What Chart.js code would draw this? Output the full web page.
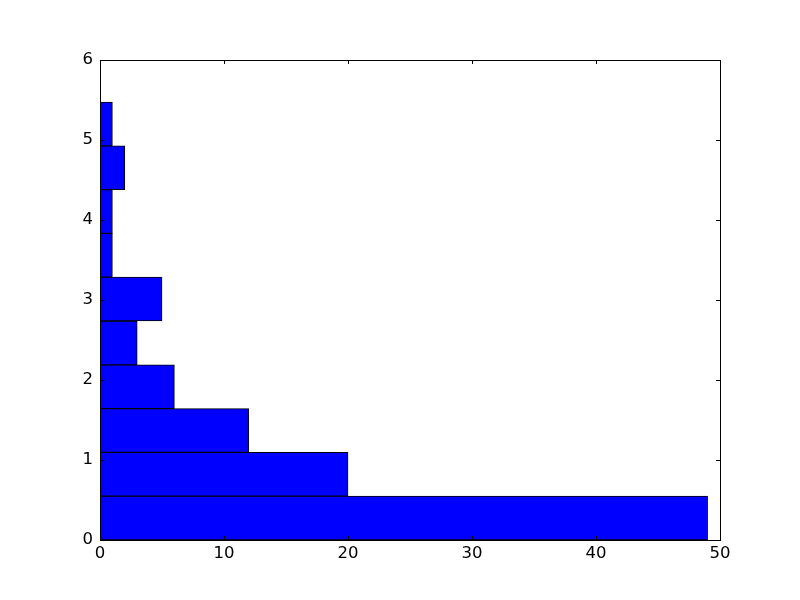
<!DOCTYPE html>
<html>
<head>
<meta charset="utf-8">
<script src="https://cdn.jsdelivr.net/npm/chart.js@4/dist/chart.umd.min.js"></script>
<style>
  html, body { margin: 0; padding: 0; background: #fff; }
  #wrap { width: 800px; height: 600px; }
</style>
</head>
<body>
<div id="wrap"><canvas id="hist" width="800" height="600"></canvas></div>
<script>
// ── Horizontal histogram (matplotlib classic look) ──────────────────

const binEdges = [0, 0.5475, 1.095, 1.6425, 2.19, 2.7375, 3.285, 3.8325, 4.38, 4.9275, 5.475];
const counts   = [49, 20, 12, 6, 3, 5, 1, 1, 2, 1];
const xTicks   = [0, 10, 20, 30, 40, 50];
const yTicks   = [0, 1, 2, 3, 4, 5, 6];

const points = counts.map((c, i) => ({ y: (binEdges[i] + binEdges[i + 1]) / 2, x: c }));

// inward ticks on all four sides + black frame
const frameTicks = {
  id: 'frameTicks',
  afterDatasetsDraw(chart) {
    const { ctx, chartArea: a, scales } = chart;
    const len = 4;
    ctx.save();
    ctx.strokeStyle = '#000';
    ctx.lineWidth = 1;
    ctx.beginPath();
    for (const v of xTicks) {
      const px = Math.round(scales.x.getPixelForValue(v)) + 0.5;
      ctx.moveTo(px, a.bottom); ctx.lineTo(px, a.bottom - len);
      ctx.moveTo(px, a.top); ctx.lineTo(px, a.top + len);
    }
    for (const v of yTicks) {
      const py = Math.round(scales.y.getPixelForValue(v)) + 0.5;
      ctx.moveTo(a.left, py); ctx.lineTo(a.left + len, py);
      ctx.moveTo(a.right, py); ctx.lineTo(a.right - len, py);
    }
    ctx.stroke();
    ctx.strokeRect(Math.round(a.left) + 0.5, Math.round(a.top) + 0.5,
                   Math.round(a.right - a.left), Math.round(a.bottom - a.top));
    ctx.restore();
  }
};

new Chart(document.getElementById('hist'), {
  type: 'bar',
  data: {
    datasets: [{
      data: points,
      backgroundColor: '#0000ff',
      borderColor: '#000',
      borderWidth: 1,
      borderSkipped: false,
      barPercentage: 1,
      categoryPercentage: 1,
    }],
  },
  options: {
    indexAxis: 'y',
    responsive: false,
    animation: false,
    devicePixelRatio: 1,
    layout: { padding: { top: 60, right: 80, left: 0, bottom: 0 } },
    plugins: { legend: { display: false }, tooltip: { enabled: false } },
    scales: {
      x: {
        type: 'linear', min: 0, max: 50,
        afterFit: s => { s.height = 60; },
        afterBuildTicks: s => { s.ticks = xTicks.map(v => ({ value: v })); },
        grid: { display: false, drawTicks: false },
        border: { display: false },
        ticks: { color: '#000', padding: 4, font: { family: 'DejaVu Sans', size: 16.5 } },
      },
      y: {
        type: 'linear', min: 0, max: 6, offset: false,
        afterFit: s => { s.width = 100; },
        afterBuildTicks: s => { s.ticks = yTicks.map(v => ({ value: v })); },
        grid: { display: false, drawTicks: false, offset: false },
        border: { display: false },
        ticks: { color: '#000', padding: 7, font: { family: 'DejaVu Sans', size: 16.5 } },
      },
    },
  },
  plugins: [frameTicks],
});
</script>
</body>
</html>
